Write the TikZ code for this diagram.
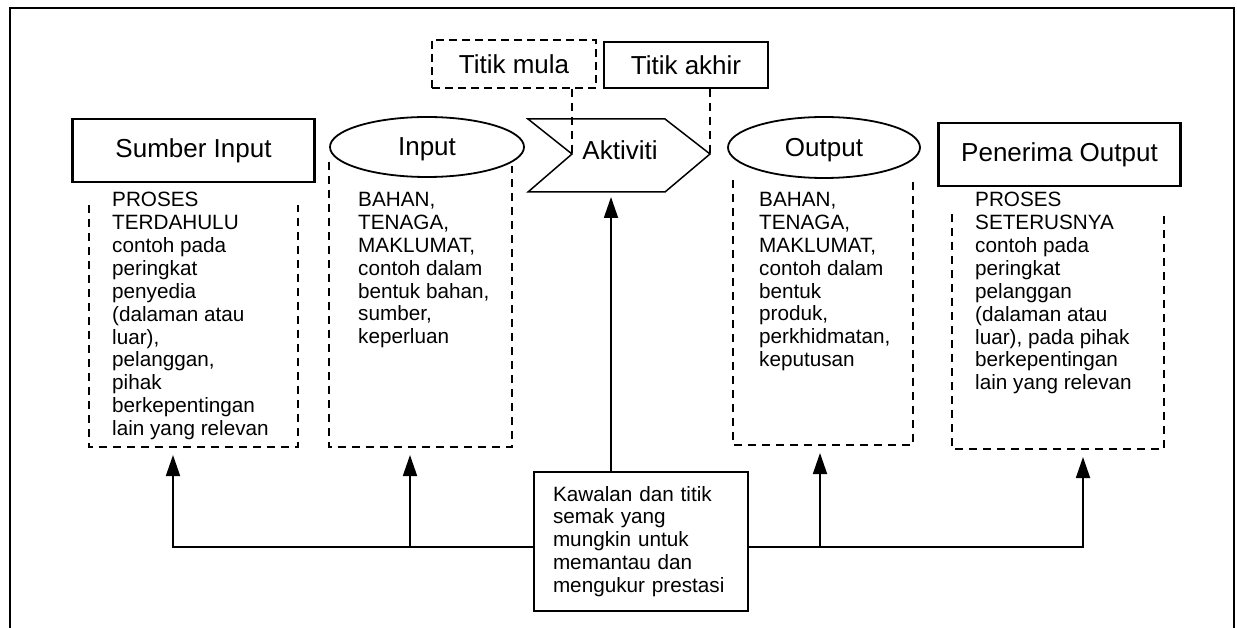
\documentclass[tikz,border=0pt]{standalone}
\usepackage{fontspec}
\setmainfont{Liberation Sans}
\usetikzlibrary{arrows.meta,shapes.geometric}

\newcommand{\diaghead}{\fontsize{26}{30}\selectfont}
\newcommand{\diagbody}{\fontsize{20.7}{22.9}\selectfont}

\begin{document}
\begin{tikzpicture}[
        x=1pt, y=-1pt,
        headbox/.style={draw, line width=2.4pt, minimum width=242pt, minimum height=63pt, inner sep=0pt, font=\diaghead},
        oval/.style={draw, ellipse, line width=1.8pt, fill=white, inner sep=0pt, text depth=0pt, font=\diaghead},
        tagbox/.style={draw, line width=1.5pt, minimum width=164pt, inner sep=0pt, font=\diaghead},
        notes/.style={anchor=north west, inner sep=0pt, align=left, font=\diagbody},
        fence/.style={line width=2.2pt, dash pattern=on 8pt off 6pt},
        feed/.style={line width=1.8pt, -{Triangle[length=21pt,width=14pt]}, shorten >=8pt}
    ]
            \useasboundingbox
                (0,0) rectangle (1237,628)
            ;
            \draw[line width=1.5pt]
                (10,640) -- (10,8) -- (1234,8) -- (1234,640)
            ;
            \draw[fence] (89,205) -- (89,447) -- (298,447) -- (298,205);
            \draw[fence] (329,162) -- (329,447) -- (512,447) -- (512,166);
            \draw[fence] (733,180) -- (733,445) -- (913,445) -- (913,180);
            \draw[fence] (952,214) -- (952,449) -- (1164,449) -- (1164,214);

            \node[headbox] (src) at (193.5,150.5) {Sumber Input};
            \node[oval, minimum width=194pt, minimum height=60pt] (inp) at (427,147) {Input};
            \node[oval, minimum width=192pt, minimum height=61pt] (outp) at (824,147.5) {Output};
            \node[headbox] (recv) at (1059.5,154.5) {Penerima Output};

            \coordinate (notch) at (572,154);
            \coordinate (tip) at (710,154);
            \draw[line width=1.5pt]
                (528,119) -- (665,119) -- (tip) -- (665,192) -- (528,192) -- (notch) -- cycle
            ;
            \node[font=\diaghead, inner sep=0pt] (act) at (620,150) {Aktiviti};

            \node[tagbox, dash pattern=on 8pt off 5pt, minimum height=48pt] (start) at (514,64) {Titik mula};
            \node[tagbox, minimum height=46pt] (finish) at (686,65) {Titik akhir};
            \draw[fence] (notch |- start.south) -- (notch);
            \draw[fence] (tip |- finish.south) -- (tip);

            \node[notes] (srcnote) at (112,192)
                {PROSES\\TERDAHULU\\contoh pada\\peringkat\\penyedia\\(dalaman atau\\luar),\\pelanggan,\\pihak\\berkepentingan\\lain yang relevan};
            \node[notes] (inpnote) at (358,192)
                {BAHAN,\\TENAGA,\\MAKLUMAT,\\contoh dalam\\bentuk bahan,\\sumber,\\keperluan};
            \node[notes] (outnote) at (759,192)
                {BAHAN,\\TENAGA,\\MAKLUMAT,\\contoh dalam\\bentuk\\produk,\\perkhidmatan,\\keputusan};
            \node[notes] (recvnote) at (975,192)
                {PROSES\\SETERUSNYA\\contoh pada\\peringkat\\pelanggan\\(dalaman atau\\luar), pada pihak\\berkepentingan\\lain yang relevan};

            \node[draw, line width=1.3pt, minimum height=139pt, text width=176pt, align=left, inner xsep=19pt, font=\diagbody]
                (ctrl) at (641,541.5)
                {Kawalan dan titik\\semak yang\\mungkin untuk\\memantau dan\\mengukur prestasi};

            \coordinate (bus) at (641,547);
            \coordinate (srcfoot) at (173,447);
            \coordinate (inpfoot) at (410,447);
            \coordinate (outfoot) at (820,445);
            \coordinate (recvfoot) at (1083,449);
            \coordinate (actfoot) at (611,192);
            \draw[feed] (ctrl.west |- bus) -| (srcfoot);
            \draw[feed] (inpfoot |- bus) -- (inpfoot);
            \draw[feed] (ctrl.east |- bus) -| (recvfoot);
            \draw[feed] (outfoot |- bus) -- (outfoot);
            \draw[feed, shorten >=5pt] (actfoot |- ctrl.north) -- (actfoot);
        \end{tikzpicture}
\end{document}
